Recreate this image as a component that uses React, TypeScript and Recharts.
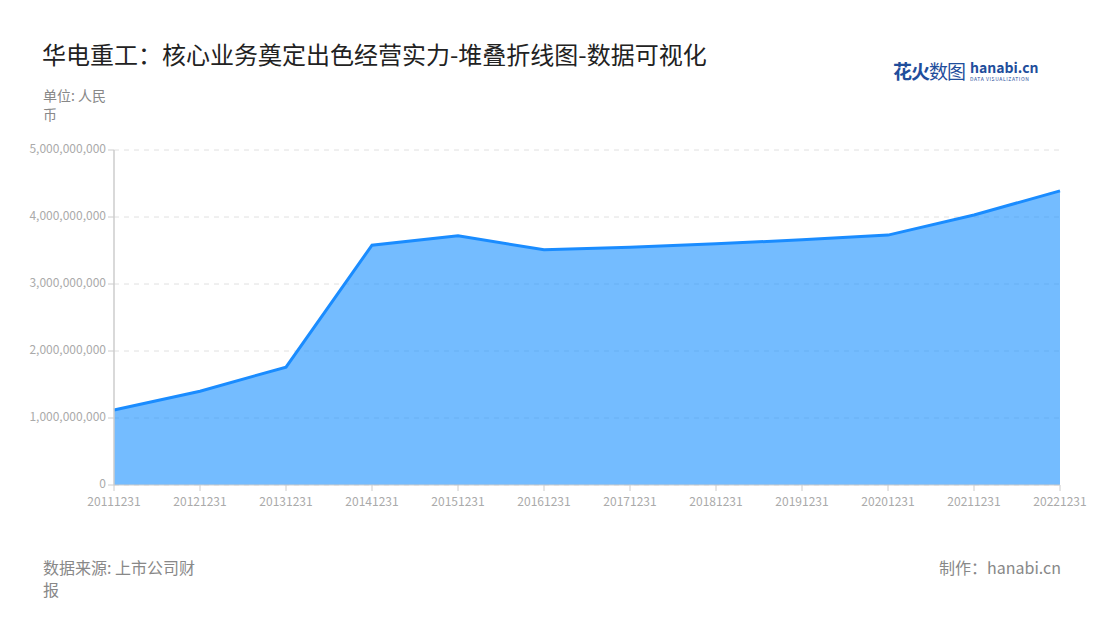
import React from 'react';
import { AreaChart, Area, XAxis, YAxis, CartesianGrid } from 'recharts';

const years = ['20111231','20121231','20131231','20141231','20151231','20161231','20171231','20181231','20191231','20201231','20211231','20221231'];
const revenue = [1.12e9, 1.40e9, 1.76e9, 3.58e9, 3.72e9, 3.51e9, 3.55e9, 3.60e9, 3.66e9, 3.73e9, 4.03e9, 4.39e9];
const yTicks = [0, 1e9, 2e9, 3e9, 4e9, 5e9];

const data = years.map((y, i) => ({ year: y, value: revenue[i] }));

const FONT = '"Noto Sans CJK SC", "Noto Sans", sans-serif';
const fmt = (v: number) => v.toLocaleString('en-US');

export default function App() {
  return (
    <div style={{ position: 'absolute', left: 0, top: 0, width: 1100, height: 620, background: '#fff', fontFamily: FONT, overflow: 'hidden' }}>
      <div style={{ position: 'absolute', left: 42, top: 38, fontSize: 24, color: '#222', whiteSpace: 'nowrap', lineHeight: '32px' }}>
        华电重工：核心业务奠定出色经营实力-堆叠折线图-数据可视化
      </div>
      <div style={{ position: 'absolute', left: 43, top: 86, width: 72, fontSize: 14, color: '#888', lineHeight: '19px' }}>
        单位: 人民币
      </div>
      <div style={{ position: 'absolute', left: 893, top: 58, display: 'flex', alignItems: 'center', whiteSpace: 'nowrap' }}>
        <span style={{ fontSize: 19, fontWeight: 700, color: '#1f4e9c', letterSpacing: -1, lineHeight: '26px' }}>花火</span>
        <span style={{ fontSize: 19, color: '#1f4e9c', letterSpacing: -1, lineHeight: '26px' }}>数图</span>
        <div style={{ marginLeft: 5, display: 'flex', flexDirection: 'column' }}>
          <span style={{ fontSize: 14, fontWeight: 700, color: '#1f4e9c', lineHeight: '14px' }}>hanabi.cn</span>
          <span style={{ fontSize: 5, color: '#1f4e9c', letterSpacing: 0.6, lineHeight: '7px', marginTop: 1 }}>DATA VISUALIZATION</span>
        </div>
      </div>
      <div style={{ position: 'absolute', left: 0, top: 0 }}>
        <AreaChart width={1100} height={620} data={data} margin={{ top: 150, right: 40, bottom: 105, left: 14 }}>
          <CartesianGrid vertical={false} stroke="#e0e0e0" strokeDasharray="5 5" />
          <XAxis
            dataKey="year"
            tick={{ fontSize: 12, fill: '#aaa', fontFamily: FONT, dy: 4 }}
            axisLine={{ stroke: '#ccc' }}
            tickLine={{ stroke: '#ccc' }}
            interval={0}
            height={30}
          />
          <YAxis
            ticks={yTicks}
            domain={[0, 5e9]}
            tickFormatter={fmt}
            width={100}
            tick={{ fontSize: 12, fill: '#aaa', fontFamily: FONT, dy: -1 }}
            axisLine={{ stroke: '#ccc', strokeWidth: 1.5 }}
            tickLine={{ stroke: '#ccc' }}
          />
          <Area
            type="linear"
            dataKey="value"
            stroke="#1a8cff"
            strokeWidth={3}
            fill="#1890ff"
            fillOpacity={0.6}
            isAnimationActive={false}
            dot={false}
            activeDot={false}
          />
        </AreaChart>
      </div>
      <div style={{ position: 'absolute', left: 43, top: 556, width: 165, fontSize: 16, color: '#888', lineHeight: '22px' }}>
        数据来源: 上市公司财报
      </div>
      <div style={{ position: 'absolute', right: 39, top: 556, fontSize: 16, color: '#888', lineHeight: '22px', whiteSpace: 'nowrap' }}>
        制作：hanabi.cn
      </div>
    </div>
  );
}
